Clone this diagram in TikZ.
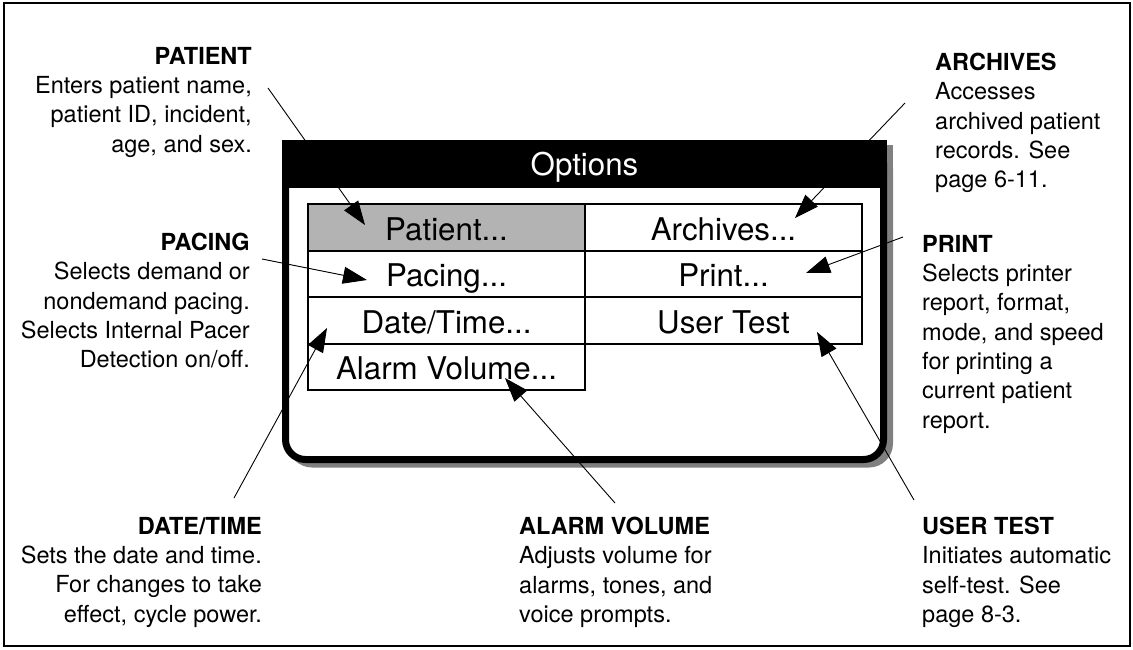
\documentclass[tikz,border=0pt]{standalone}
\usepackage{fontspec}
\setmainfont{TeX Gyre Heros}
\usetikzlibrary{arrows.meta}
\definecolor{selgray}{HTML}{B3B3B3}
\definecolor{shadowgray}{HTML}{808080}

\begin{document}
\begin{tikzpicture}[x=1pt, y=-1pt,
  note/.style={inner sep=0pt, font=\fontsize{23.5}{29.3}\selectfont},
  cell/.style={draw, line width=2pt, minimum width=277pt, minimum height=46.5pt, inner sep=0pt,
    text height=28pt, text depth=2.5pt, font=\fontsize{31.3}{36}\selectfont},
  arr/.style={-{Triangle[length=24pt, width=17pt]}, line width=0.9pt}]
\useasboundingbox (0,0) rectangle (1133,649);
\draw[line width=2.5pt] (4,3) rectangle (1130,646);
% options window and its shadow
\fill[shadowgray, rounded corners=24pt] (288,145) rectangle (893,467.5);
\fill[shadowgray] (288,145) rectangle (893,200);
\draw[line width=7pt, fill=white, rounded corners=20pt] (285.5,143.5) rectangle (883.5,459.5);
\fill (282,140) rectangle (887,188);
\node[inner sep=0pt, text height=24.5pt, text depth=2.5pt, text=white,
  font=\fontsize{31.3}{36}\selectfont] (title) at (584.5,164) {Options};
% menu cells
\node[cell, fill=selgray] (patcell) at (446.5,227.25) {Patient...};
\node[cell] (arccell) at (723.5,227.25) {Archives...};
\node[cell] (pacecell) at (446.5,273.75) {Pacing...};
\node[cell] (printcell) at (723.5,273.75) {Print...};
\node[cell] (datecell) at (446.5,320.25) {Date/Time...};
\node[cell] (testcell) at (723.5,320.25) {User Test};
\node[cell] (alarmcell) at (446.5,366.75) {Alarm Volume...};
% notes
\node[note, anchor=north east, align=right] (patnote) at (252,47)
  {\textbf{PATIENT}\\Enters patient name,\\patient ID, incident,\\age, and sex.};
\node[note, anchor=north east, align=right] (pacenote) at (250,233)
  {\textbf{PACING}\\Selects demand or\\nondemand pacing.\\Selects Internal Pacer\\Detection on/off.};
\node[note, anchor=north east, align=right] (datenote) at (262,517)
  {\textbf{DATE/TIME}\\Sets the date and time.\\For changes to take\\effect, cycle power.};
\node[note, anchor=north west, align=left] (alarmnote) at (519,517)
  {\textbf{ALARM VOLUME}\\Adjusts volume for\\alarms, tones, and\\voice prompts.};
\node[note, anchor=north west, align=left] (arcnote) at (935,53)
  {\textbf{ARCHIVES}\\Accesses\\archived patient\\records. See\\page 6-11.};
\node[note, anchor=north west, align=left] (printnote) at (922,235)
  {\textbf{PRINT}\\Selects printer\\report, format,\\mode, and speed\\for printing a\\current patient\\report.};
\node[note, anchor=north west, align=left] (testnote) at (922,517)
  {\textbf{USER TEST}\\Initiates automatic\\self-test. See\\page 8-3.};
% leader ends
\coordinate (patS) at (268,88);    \coordinate (patT) at (365,225);
\coordinate (paceS) at (262,259);  \coordinate (paceT) at (367,280);
\coordinate (dateS) at (234,498);  \coordinate (dateT) at (327,328);
\coordinate (alarmS) at (615,503); \coordinate (alarmT) at (505,378);
\coordinate (arcS) at (905,103);   \coordinate (arcT) at (795,218);
\coordinate (printS) at (903,237); \coordinate (printT) at (806,273);
\coordinate (testS) at (914,500);  \coordinate (testT) at (817,332);
\draw[arr] (patS) -- (patT);
\draw[arr] (paceS) -- (paceT);
\draw[arr] (dateS) -- (dateT);
\draw[arr] (alarmS) -- (alarmT);
\draw[arr] (arcS) -- (arcT);
\draw[arr] (printS) -- (printT);
\draw[arr] (testS) -- (testT);
\end{tikzpicture}
\end{document}
